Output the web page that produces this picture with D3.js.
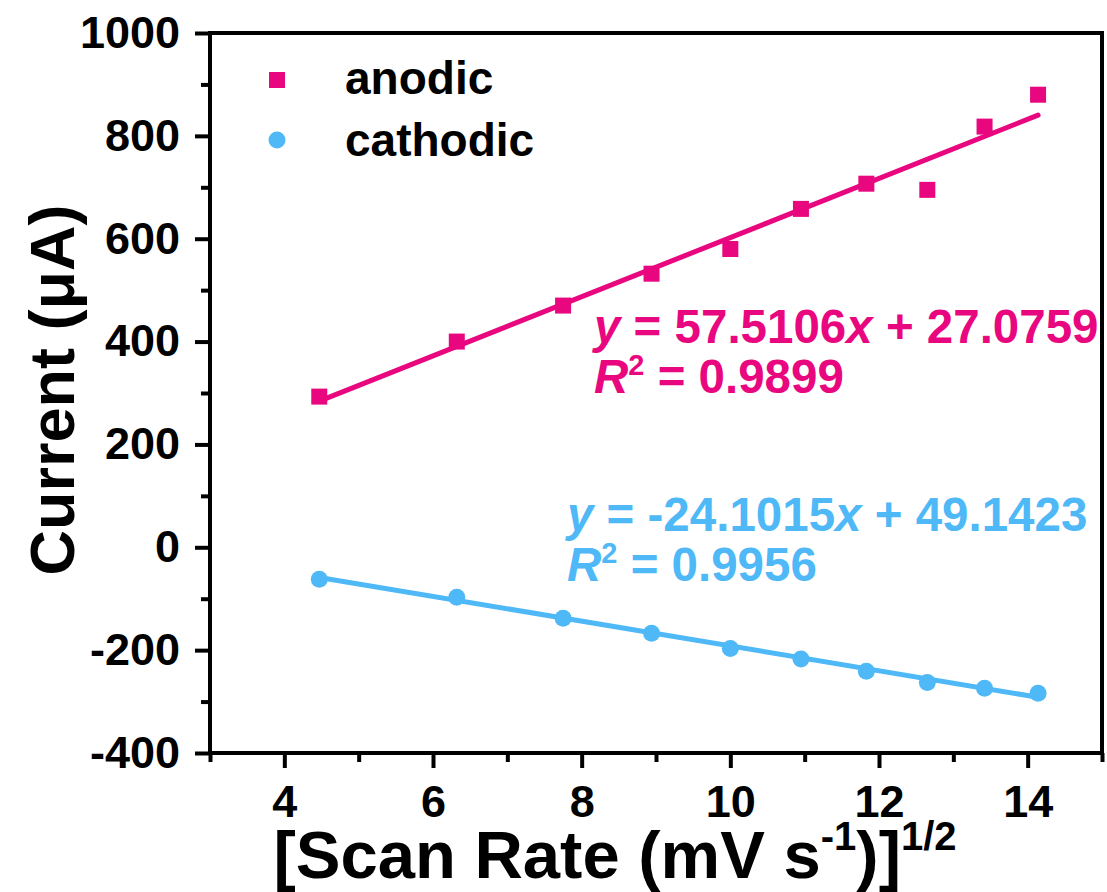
<!DOCTYPE html>
<html>
<head>
<meta charset="utf-8">
<script src="https://cdn.jsdelivr.net/npm/d3@7/dist/d3.min.js"></script>
<style>
    body { margin: 0; background: #fff; }
    text { font-family: "Liberation Sans", Arial, sans-serif; font-weight: bold; }
</style>
</head>
<body>
<script>
// sqrt of scan rate (20..200 mV/s)
var scanRoot = [4.47, 6.32, 7.75, 8.94, 10.0, 10.95, 11.83, 12.65, 13.42, 14.14];
var anodic = [293, 400, 470, 532, 580, 658, 707, 695, 818, 880];
var cathodic = [-62, -97, -138, -167, -197, -217, -241, -263, -274, -284];

var anodicFit = [57.5106, 27.0759];     // slope, intercept
var cathodicFit = [-24.1015, 49.1423];
var anodicR2 = "0.9899";
var cathodicR2 = "0.9956";

var xTicks = [4, 6, 8, 10, 12, 14];
var xMinor = [3, 5, 7, 9, 11, 13, 15];
var yTicks = [-400, -200, 0, 200, 400, 600, 800, 1000];
var yMinor = [-300, -100, 100, 300, 500, 700, 900];

var pink = "#e8077f",
    blue = "#4fb8f6";

var width = 1107,
    height = 892;
var plotL = 210, plotR = 1102, plotT = 33, plotB = 753;

var svg = d3.select("body")
    .append("svg")
    .attr("width", width)
    .attr("height", height);

var x = d3.scaleLinear().domain([3, 15]).range([plotL, plotR]);
var y = d3.scaleLinear().domain([-400, 1000]).range([plotB, plotT]);

// plain hyphen for negatives, like the original
var fmt = function(d) { return String(d); };

// minor ticks first
svg.append("g")
    .attr("transform", "translate(0," + plotB + ")")
    .call(d3.axisBottom(x).tickValues(xMinor).tickSize(9).tickFormat(""))
    .call(function(g) { g.select(".domain").remove(); g.selectAll("line").attr("stroke-width", 4); });

svg.append("g")
    .attr("transform", "translate(" + plotL + ",0)")
    .call(d3.axisLeft(y).tickValues(yMinor).tickSize(9).tickFormat(""))
    .call(function(g) { g.select(".domain").remove(); g.selectAll("line").attr("stroke-width", 4); });

// major ticks
svg.append("g")
    .attr("transform", "translate(0," + plotB + ")")
    .call(d3.axisBottom(x).tickValues(xTicks).tickSize(15).tickPadding(17).tickFormat(fmt))
    .call(function(g) {
        g.select(".domain").remove();
        g.selectAll("line").attr("stroke-width", 4);
        g.selectAll("text").style("font-size", "45px").attr("fill", "#000");
    });

svg.append("g")
    .attr("transform", "translate(" + plotL + ",0)")
    .call(d3.axisLeft(y).tickValues(yTicks).tickSize(15).tickPadding(15).tickFormat(fmt))
    .call(function(g) {
        g.select(".domain").remove();
        g.selectAll("line").attr("stroke-width", 4);
        g.selectAll("text").style("font-size", "45px").attr("fill", "#000");
    });

// frame
svg.append("rect")
    .attr("x", plotL)
    .attr("y", plotT)
    .attr("width", plotR - plotL)
    .attr("height", plotB - plotT)
    .attr("fill", "none")
    .attr("stroke", "#000")
    .attr("stroke-width", 4);

// fit lines
function fitLine(fit, color) {
    var xs = [scanRoot[0], scanRoot[scanRoot.length - 1]];
    svg.append("line")
        .attr("x1", x(xs[0]))
        .attr("y1", y(fit[0] * xs[0] + fit[1]))
        .attr("x2", x(xs[1]))
        .attr("y2", y(fit[0] * xs[1] + fit[1]))
        .attr("stroke", color)
        .attr("stroke-width", 5)
        .attr("stroke-linecap", "round");
}
fitLine(anodicFit, pink);
fitLine(cathodicFit, blue);

// points
svg.append("g")
    .selectAll("rect")
    .data(scanRoot)
    .enter()
    .append("rect")
    .attr("x", function(d) { return x(d) - 8; })
    .attr("y", function(d, i) { return y(anodic[i]) - 8; })
    .attr("width", 16)
    .attr("height", 16)
    .attr("fill", pink);

svg.append("g")
    .selectAll("circle")
    .data(scanRoot)
    .enter()
    .append("circle")
    .attr("cx", function(d) { return x(d); })
    .attr("cy", function(d, i) { return y(cathodic[i]); })
    .attr("r", 8.5)
    .attr("fill", blue);

// legend
svg.append("rect")
    .attr("x", 269).attr("y", 72).attr("width", 16).attr("height", 16)
    .attr("fill", pink);
svg.append("circle")
    .attr("cx", 277).attr("cy", 140).attr("r", 8.5)
    .attr("fill", blue);
svg.append("text")
    .attr("x", 345).attr("y", 94)
    .style("font-size", "46px")
    .text("anodic");
svg.append("text")
    .attr("x", 345).attr("y", 156)
    .style("font-size", "46px")
    .text("cathodic");

// equations
function equation(xp, yp, fit, r2, color) {
    var slope = fit[0].toFixed(4), icpt = fit[1].toFixed(4);
    var t = svg.append("text")
        .attr("x", xp).attr("y", yp)
        .attr("fill", color)
        .style("font-size", "47.5px");
    t.append("tspan").style("font-style", "italic").text("y");
    t.append("tspan").text(" = " + slope);
    t.append("tspan").style("font-style", "italic").text("x");
    t.append("tspan").text(" + " + icpt);

    var r = svg.append("text")
        .attr("x", xp).attr("y", yp + 50)
        .attr("fill", color)
        .style("font-size", "47.5px");
    r.append("tspan").style("font-style", "italic").text("R");
    r.append("tspan").attr("dy", -18).style("font-size", "29px").text("2");
    r.append("tspan").attr("dy", 18).text(" = " + r2);
}
equation(594, 343, anodicFit, anodicR2, pink);
equation(567, 531, cathodicFit, cathodicR2, blue);

// axis titles
svg.append("text")
    .attr("transform", "translate(74," + 390 + ") rotate(-90)")
    .attr("text-anchor", "middle")
    .style("font-size", "63px")
    .text("Current (μA)");

var xt = svg.append("text")
    .attr("x", 615)
    .attr("y", 878)
    .attr("text-anchor", "middle")
    .style("font-size", "67px");
xt.append("tspan").text("[Scan Rate (mV s");
xt.append("tspan").attr("dy", -28).style("font-size", "40px").text("-1");
xt.append("tspan").attr("dy", 28).text(")]");
xt.append("tspan").attr("dy", -28).style("font-size", "40px").text("1/2");
</script>
</body>
</html>
